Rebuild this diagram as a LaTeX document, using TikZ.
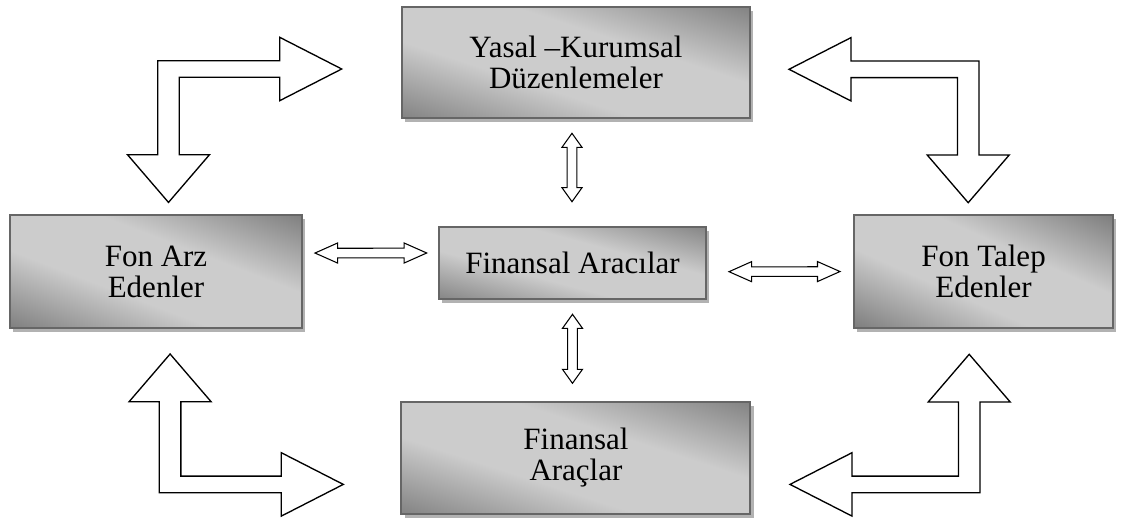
\documentclass[tikz,border=0pt]{standalone}
\usepackage{fontspec}
\setmainfont{Liberation Serif}
\usetikzlibrary{calc, positioning, shadows}

\pgfdeclareverticalshading{boxshade}{100bp}{color(0bp)=(black!63); color(10bp)=(black!60);
  color(40bp)=(black!20); color(60bp)=(black!20); color(90bp)=(black!60); color(100bp)=(black!63)}

\tikzset{
  box/.style = {draw=black!60, line width=1.5pt, align=center, inner sep=0pt, outer sep=0pt,
    shading=boxshade, shading angle=-20,
    drop shadow={shadow xshift=2.5pt, shadow yshift=-3.2pt, fill=black!30, opacity=1},
    font=\fontsize{23.25}{23.25}\selectfont},
  blockarrow/.style = {draw, fill=white, line width=1pt, line join=miter},
}

% bent block arrow: corner, x flip, y flip, arm length, leg length
\newcommand{\bendarrow}[5]{%
  \draw[blockarrow, xscale=#2, yscale=#3] (#1) -- ++(#4,0) -- ++(0,-23.4) -- ++(62,31.7) -- ++(-62,31.7)
    -- ++(0,-23.4) -- ++({21.6-#4},0) -- ++(0,{#5-16.6}) -- ++(30.2,0) -- ++(-41,47.7) -- ++(-41,-47.7)
    -- ++(30.2,0) -- cycle;}

% double block arrow: head length, tip, tip
\newcommand{\twoway}[3]{%
  \draw[blockarrow, line width=0.8pt] (#2)
    -- ($(#2)!#1!(#3)!7.5pt!90:(#3)$) -- ($(#2)!#1!(#3)!3.6pt!90:(#3)$)
    -- ($(#3)!#1!(#2)!3.6pt!-90:(#2)$) -- ($(#3)!#1!(#2)!7.5pt!-90:(#2)$)
    -- (#3)
    -- ($(#3)!#1!(#2)!7.5pt!90:(#2)$) -- ($(#3)!#1!(#2)!3.6pt!90:(#2)$)
    -- ($(#2)!#1!(#3)!3.6pt!-90:(#3)$) -- ($(#2)!#1!(#3)!7.5pt!-90:(#3)$)
    -- cycle;}

\begin{document}
\begin{tikzpicture}[x=0.75pt, y=-0.75pt]
\useasboundingbox (0,0) rectangle (1126,520);
\coordinate (center) at (572.5,263);
\node[box, minimum width=200.25pt, minimum height=54pt, shading angle=-15] (aracilar) at (center) {Finansal Aracılar};
\node[box, minimum width=261pt, minimum height=83.25pt, above = 81.75pt of aracilar, xshift=2.6pt, shading angle=-18] (yasal) {Yasal –Kurumsal\\Düzenlemeler};
\node[box, minimum width=261.75pt, minimum height=84pt, below = 77.25pt of aracilar, xshift=2.6pt, shading angle=-18] (araclar) {Finansal\\Araçlar};
\node[box, minimum width=219pt, minimum height=84.75pt, left = 102.75pt of aracilar, yshift=-6.4pt, shading angle=-21] (arz) {Fon Arz\\Edenler};
\node[box, minimum width=194.25pt, minimum height=84.75pt, right = 111pt of aracilar, yshift=-6.4pt, shading angle=-24] (talep) {Fon Talep\\Edenler};

% bent arrows in the corners
\coordinate (arz-yasal) at (157.7,60.7);
\coordinate (talep-yasal) at (979,61);
\coordinate (arz-araclar) at (159.3,492.7);
\coordinate (talep-araclar) at (980,492.7);
\bendarrow{arz-yasal}{1}{1}{122}{94}
\bendarrow{talep-yasal}{-1}{1}{128}{94}
\bendarrow{arz-araclar}{1}{-1}{122}{91}
\bendarrow{talep-araclar}{-1}{-1}{128}{90.7}

% double arrows round the middle
\coordinate (arz-r) at ($(arz.east)+(13,-18.5)$);
\coordinate (aracilar-l) at ($(aracilar.west)+(-12.3,-10)$);
\coordinate (aracilar-r) at ($(aracilar.east)+(23,8.7)$);
\coordinate (talep-l) at ($(talep.west)+(-14,0)$);
\coordinate (yasal-b) at ($(yasal.south)+(-4,15.3)$);
\coordinate (aracilar-t) at ($(aracilar.north)+(-0.5,-25.3)$);
\coordinate (aracilar-b) at ($(aracilar.south)+(0,15.3)$);
\coordinate (araclar-t) at ($(araclar.north)+(-3.5,-18.7)$);
\twoway{16.9pt}{arz-r}{aracilar-l}
\twoway{16.9pt}{aracilar-r}{talep-l}
\twoway{10.5pt}{yasal-b}{aracilar-t}
\twoway{10.5pt}{aracilar-b}{araclar-t}
\end{tikzpicture}
\end{document}
